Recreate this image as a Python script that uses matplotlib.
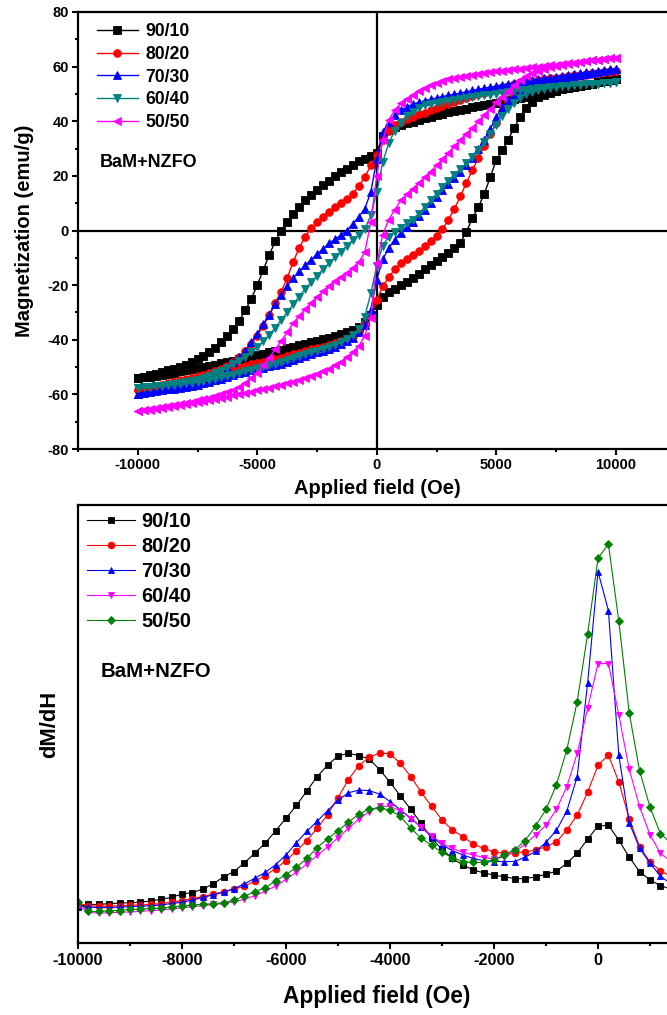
import matplotlib
matplotlib.use("Agg")
import matplotlib.pyplot as plt
from matplotlib.ticker import MultipleLocator
import numpy as np

plt.rcParams['font.family'] = ['Liberation Sans', 'DejaVu Sans']
plt.rcParams['font.weight'] = 'bold'
plt.rcParams['axes.unicode_minus'] = False

# ---------------- top panel: M-H loops ----------------
labels_top = ["90/10", "80/20", "70/30", "60/40", "50/50"]
colors_top = ["black", "#ff0000", "#0000ff", "#008080", "#ff00ff"]
markers_top = ["s", "o", "^", "v", "<"]

# field grid of each branch, -10000 .. 10000 Oe in 250 Oe steps
field_loop = np.arange(-10000, 10001, 250)

# upper branch (field coming down from +10 kOe), listed from -10000 to +10000
m_upper_9010 = [-54.0, -53.5, -53.0, -52.4, -51.8, -51.2, -50.6, -49.9, -49.1,
                -48.2, -47.2, -46.0, -44.6, -43.0, -41.0, -38.8, -36.0,
                -33.0, -29.2, -25.0, -20.0, -14.5, -9.0, -4.0, 0.0,
                3.2, 6.0, 8.7, 11.0, 13.1, 14.9, 16.6, 18.2,
                19.8, 21.3, 22.7, 24.0, 25.3, 26.3, 27.4, 28.5,
                34.5, 36.8, 37.9, 38.7, 39.3, 39.9, 40.5, 41.1,
                41.7, 42.3, 42.8, 43.3, 43.7, 44.2, 44.6, 45.1,
                45.5, 45.9, 46.4, 46.8, 47.2, 47.7, 48.1, 48.5,
                49.0, 49.4, 49.9, 50.3, 50.8, 51.2, 51.7, 52.2,
                52.6, 53.0, 53.4, 53.8, 54.2, 54.6, 55.0, 55.4]
m_lower_9010 = [-54.0, -53.8, -53.5, -53.2, -52.8, -52.4, -52.0, -51.6, -51.2,
                -50.8, -50.4, -50.0, -49.6, -49.1, -48.6, -48.1, -47.6,
                -47.1, -46.6, -46.1, -45.6, -45.1, -44.6, -44.1, -43.6,
                -43.1, -42.6, -42.1, -41.5, -41.0, -40.4, -39.8, -39.2,
                -38.6, -38.0, -37.2, -36.4, -35.3, -33.6, -31.0, -27.3,
                -24.2, -22.7, -21.3, -20.1, -18.8, -17.4, -15.8, -14.2,
                -12.7, -11.2, -9.7, -8.2, -6.5, -4.5, -0.5, 4.5,
                8.5, 13.5, 19.5, 25.8, 29.3, 33.3, 37.5, 41.6,
                45.0, 47.2, 48.8, 49.7, 50.5, 51.1, 51.7, 52.2,
                52.6, 53.0, 53.4, 53.8, 54.2, 54.6, 55.0, 55.4]

m_upper_8020 = [-58.4, -57.9, -57.4, -56.9, -56.4, -55.9, -55.4, -54.9, -54.4,
                -53.9, -53.4, -52.9, -52.3, -51.6, -50.7, -49.6, -48.2,
                -46.3, -44.0, -41.5, -38.5, -35.0, -31.0, -26.5, -22.5,
                -17.5, -11.5, -6.5, -2.3, 0.8, 3.0, 5.0, 6.9,
                8.6, 10.2, 11.5, 13.5, 16.3, 19.5, 23.8, 27.5,
                33.2, 36.4, 38.5, 39.8, 40.8, 41.7, 42.5, 43.2,
                44.0, 44.8, 45.6, 46.3, 47.0, 47.8, 48.5, 49.2,
                49.9, 50.5, 51.2, 51.8, 52.4, 53.0, 53.6, 54.2,
                54.5, 54.8, 55.1, 55.4, 55.7, 56.0, 56.2, 56.5,
                56.8, 57.1, 57.3, 57.6, 57.8, 58.1, 58.3, 58.5]
m_lower_8020 = [-58.4, -58.0, -57.6, -57.1, -56.6, -56.1, -55.6, -55.1, -54.6,
                -54.1, -53.6, -53.1, -52.6, -52.0, -51.4, -50.8, -50.3,
                -49.9, -49.5, -49.0, -48.6, -48.1, -47.6, -47.1, -46.5,
                -45.9, -45.3, -44.7, -44.0, -43.5, -43.0, -42.5, -42.0,
                -41.3, -40.5, -39.7, -38.8, -37.2, -34.5, -31.0, -25.5,
                -20.5, -17.2, -14.2, -12.0, -10.5, -9.0, -7.5, -5.8,
                -4.0, -2.0, 0.5, 4.0, 8.0, 12.5, 17.5, 22.0,
                26.5, 31.0, 35.3, 39.5, 43.8, 47.2, 49.6, 51.0,
                52.0, 53.0, 53.8, 54.5, 54.9, 55.3, 55.7, 56.0,
                56.4, 56.7, 57.0, 57.3, 57.6, 57.9, 58.2, 58.5]

m_upper_7030 = [-59.7, -59.3, -58.9, -58.4, -58.0, -57.6, -57.2, -56.7, -56.2,
                -55.6, -55.0, -54.4, -53.6, -52.7, -51.5, -50.1, -48.3,
                -46.3, -44.0, -41.0, -37.8, -34.3, -30.8, -27.0, -23.5,
                -20.3, -17.5, -15.0, -12.8, -10.7, -8.7, -6.7, -4.7,
                -3.2, -1.7, 0.0, 2.5, 5.0, 8.0, 14.0, 26.0,
                36.0, 39.8, 42.3, 44.0, 45.2, 46.2, 46.9, 47.5,
                48.0, 48.5, 49.0, 49.5, 49.9, 50.3, 50.8, 51.3,
                51.7, 52.1, 52.5, 52.9, 53.3, 53.7, 54.0, 54.4,
                54.7, 55.0, 55.4, 55.7, 56.0, 56.3, 56.7, 57.0,
                57.3, 57.6, 57.9, 58.2, 58.5, 58.8, 59.0, 59.2]
m_lower_7030 = [-59.7, -59.4, -59.1, -58.8, -58.5, -58.2, -57.9, -57.6, -57.3,
                -56.9, -56.5, -56.0, -55.5, -54.9, -54.3, -53.6, -52.8,
                -52.3, -51.8, -51.2, -50.7, -50.2, -49.7, -49.2, -48.7,
                -48.0, -47.3, -46.7, -46.0, -45.3, -44.6, -44.0, -43.3,
                -42.5, -41.6, -40.5, -39.3, -37.3, -34.5, -29.0, -18.0,
                -10.5, -6.5, -3.3, -0.8, 1.2, 3.0, 5.3, 7.5,
                9.9, 12.3, 14.7, 17.0, 19.3, 21.5, 24.0, 26.5,
                29.8, 33.3, 37.3, 41.5, 45.0, 47.5, 49.4, 50.8,
                51.8, 52.6, 53.3, 53.9, 54.5, 55.0, 55.5, 56.0,
                56.4, 56.9, 57.3, 57.7, 58.1, 58.5, 58.9, 59.2]

m_upper_6040 = [-57.6, -57.4, -57.2, -57.0, -56.8, -56.6, -56.3, -56.0, -55.6,
                -55.1, -54.6, -54.0, -53.2, -52.3, -51.3, -50.2, -49.0,
                -47.7, -46.3, -44.6, -42.7, -40.6, -38.2, -35.6, -32.8,
                -30.0, -27.0, -24.2, -21.5, -19.0, -16.5, -14.2, -12.0,
                -9.8, -7.7, -5.5, -3.5, -1.5, 0.5, 5.5, 14.0,
                25.0, 32.0, 36.5, 39.5, 41.8, 43.5, 44.8, 45.8,
                46.4, 46.8, 47.2, 47.5, 47.9, 48.2, 48.6, 48.9,
                49.2, 49.5, 49.7, 50.0, 50.3, 50.6, 51.0, 51.3,
                51.5, 51.8, 52.0, 52.3, 52.5, 52.6, 52.8, 53.0,
                53.2, 53.3, 53.5, 53.6, 53.8, 53.9, 54.1, 54.2]
m_lower_6040 = [-57.6, -57.4, -57.3, -57.1, -56.9, -56.7, -56.5, -56.3, -56.0,
                -55.7, -55.4, -55.1, -54.7, -54.3, -53.8, -53.3, -52.8,
                -52.2, -51.6, -51.0, -50.3, -49.8, -49.3, -48.8, -48.2,
                -47.5, -46.8, -46.0, -45.3, -44.6, -44.0, -43.3, -42.6,
                -41.8, -41.0, -39.8, -38.2, -35.9, -31.5, -23.0, -13.0,
                -5.5, -2.3, -0.4, 1.0, 2.7, 4.0, 6.2, 8.5,
                11.0, 13.5, 16.0, 18.3, 20.5, 22.6, 24.7, 27.0,
                29.5, 32.3, 35.5, 38.8, 42.0, 44.5, 46.8, 48.5,
                49.8, 50.7, 51.3, 51.8, 52.2, 52.5, 52.8, 53.0,
                53.2, 53.3, 53.5, 53.6, 53.8, 53.9, 54.1, 54.2]

m_upper_5050 = [-66.2, -65.8, -65.5, -65.1, -64.8, -64.4, -64.0, -63.6, -63.2,
                -62.7, -62.2, -61.7, -61.2, -60.6, -60.0, -59.3, -58.5,
                -57.3, -55.8, -54.0, -52.0, -49.4, -46.5, -43.5, -40.5,
                -37.2, -34.0, -31.3, -28.8, -26.5, -24.3, -22.3, -20.3,
                -18.6, -17.0, -15.5, -13.6, -11.5, -8.0, 3.0, 20.0,
                33.0, 40.5, 44.0, 46.5, 48.2, 49.5, 51.0, 52.3,
                53.2, 54.0, 54.7, 55.3, 55.8, 56.3, 56.7, 57.0,
                57.3, 57.6, 58.0, 58.3, 58.5, 58.8, 59.0, 59.3,
                59.5, 59.7, 60.0, 60.2, 60.5, 60.7, 61.0, 61.2,
                61.5, 61.8, 62.0, 62.3, 62.5, 62.8, 63.0, 63.2]
m_lower_5050 = [-66.2, -65.9, -65.6, -65.3, -65.0, -64.7, -64.3, -64.0, -63.6,
                -63.2, -62.8, -62.4, -62.0, -61.6, -61.2, -60.8, -60.3,
                -59.9, -59.5, -59.0, -58.5, -58.0, -57.5, -57.0, -56.5,
                -55.9, -55.3, -54.6, -53.9, -53.2, -52.4, -51.5, -50.6,
                -49.4, -48.0, -46.4, -44.5, -42.3, -38.5, -32.0, -12.0,
                -1.5, 4.0, 7.5, 11.0, 13.2, 15.3, 17.4, 19.5,
                21.6, 23.8, 26.1, 28.5, 30.9, 33.3, 35.5, 37.6,
                40.0, 42.3, 44.6, 46.9, 49.0, 51.0, 53.2, 55.0,
                56.5, 57.6, 58.5, 59.3, 59.9, 60.3, 60.7, 61.0,
                61.4, 61.7, 62.0, 62.3, 62.5, 62.8, 63.0, 63.2]

upper_branches = [m_upper_9010, m_upper_8020, m_upper_7030, m_upper_6040, m_upper_5050]
lower_branches = [m_lower_9010, m_lower_8020, m_lower_7030, m_lower_6040, m_lower_5050]

# ---------------- bottom panel: dM/dH ----------------
labels_bot = ["90/10", "80/20", "70/30", "60/40", "50/50"]
colors_bot = ["black", "#ff0000", "#0000ff", "#ff00ff", "#008000"]
markers_bot = ["s", "o", "^", "v", "D"]

field_deriv = np.arange(-10000, 1601, 200)

dmdh_9010 = [8.3, 8.8, 8.8, 9.0, 9.1, 9.2, 9.3, 9.6, 10.0, 10.4,
             11.2, 11.5, 12.3, 13.5, 15.1, 16.3, 18.3, 20.5, 22.8, 25.6,
             28.5, 31.4, 34.7, 38.0, 40.6, 42.7, 43.3, 42.8, 42.0, 39.6,
             36.7, 33.6, 30.5, 27.3, 23.9, 21.4, 19.3, 17.8, 16.7, 16.0,
             15.5, 15.1, 14.7, 14.7, 15.1, 15.7, 16.4, 18.2, 20.5, 23.7,
             26.7, 26.9, 23.5, 19.6, 16.3, 14.4, 13.1, 12.3, 11.6]
dmdh_8020 = [9.0, 8.5, 8.4, 8.4, 8.5, 8.6, 8.7, 8.8, 9.0, 9.3,
             9.7, 10.1, 10.6, 11.1, 11.7, 12.3, 13.0, 14.1, 15.4, 17.0,
             18.8, 21.0, 23.4, 26.2, 29.3, 33.2, 37.3, 40.5, 42.4, 43.4,
             43.2, 41.0, 38.0, 34.4, 31.2, 28.1, 25.8, 24.3, 22.6, 21.6,
             20.8, 20.5, 20.6, 20.8, 21.2, 22.0, 23.1, 25.8, 29.2, 34.4,
             40.6, 42.9, 36.8, 28.4, 22.0, 18.5, 16.5, 15.2, 14.2]
dmdh_7030 = [8.5, 8.2, 8.1, 8.1, 8.2, 8.3, 8.4, 8.5, 8.7, 9.0,
             9.3, 9.8, 10.4, 11.0, 11.6, 12.4, 13.5, 14.8, 16.1, 17.9,
             20.1, 22.9, 25.5, 27.8, 30.2, 32.6, 34.3, 34.9, 34.8, 34.0,
             32.3, 30.4, 28.5, 26.4, 24.3, 22.4, 21.1, 20.1, 19.3, 18.8,
             18.6, 18.6, 18.6, 19.6, 20.9, 23.0, 25.7, 30.1, 38.0, 59.3,
             84.8, 75.9, 42.9, 27.5, 21.6, 18.2, 15.3, 13.5, 12.4]
dmdh_6040 = [8.5, 7.0, 6.8, 6.9, 7.0, 7.1, 7.2, 7.4, 7.5, 7.8,
             8.0, 8.3, 8.5, 8.8, 9.0, 9.4, 10.0, 10.8, 11.8, 13.0,
             14.5, 16.2, 18.0, 20.0, 22.0, 24.0, 26.2, 28.3, 30.0, 31.2,
             31.2, 30.2, 28.4, 26.4, 24.5, 22.8, 21.6, 20.7, 20.1, 19.5,
             19.2, 19.6, 20.9, 22.6, 24.7, 26.9, 30.5, 35.7, 43.3, 53.6,
             63.8, 63.8, 52.1, 39.7, 31.1, 24.7, 20.5, 18.6, 17.4]
dmdh_5050 = [9.3, 7.2, 7.2, 7.4, 7.4, 7.7, 7.7, 7.9, 7.9, 8.3,
             8.4, 8.7, 8.8, 9.0, 9.2, 9.8, 10.7, 11.7, 12.6, 14.2,
             15.6, 17.3, 19.3, 21.8, 23.8, 25.6, 27.6, 29.4, 30.6, 30.9,
             30.3, 28.9, 26.2, 23.9, 22.3, 20.7, 19.5, 18.6, 18.4, 18.4,
             19.0, 20.1, 21.3, 23.4, 26.7, 30.5, 36.1, 44.1, 55.1, 70.5,
             87.8, 91.1, 73.5, 52.6, 39.3, 31.0, 25.0, 22.8, 21.0]

dmdh_all = [dmdh_9010, dmdh_8020, dmdh_7030, dmdh_6040, dmdh_5050]

W, H = 667, 1015
fig = plt.figure(figsize=(W / 100, H / 100), dpi=100)

# top axes (right spine sits just past the image edge, as in the original crop)
ax1 = fig.add_axes([78 / W, (H - 449) / H, 597.5 / W, 437 / H])
ax1.axhline(0, color="black", lw=1.6, zorder=1)
ax1.axvline(0, color="black", lw=1.6, zorder=1)

for lab, col, mk, up, low in zip(labels_top, colors_top, markers_top,
                                 upper_branches, lower_branches):
    h = np.concatenate([field_loop[::-1], field_loop])
    m = np.concatenate([np.array(up)[::-1], np.array(low)])
    ax1.plot(h, m, color=col, marker=mk, markersize=5.5, lw=1.0,
             markeredgewidth=0.6, label=lab, zorder=3)

ax1.set_xlim(-12500, 12500)
ax1.set_ylim(-80, 80)
ax1.xaxis.set_major_locator(MultipleLocator(5000))
ax1.xaxis.set_minor_locator(MultipleLocator(2500))
ax1.yaxis.set_major_locator(MultipleLocator(20))
ax1.yaxis.set_minor_locator(MultipleLocator(10))
ax1.tick_params(which="both", direction="out", top=False, right=False,
                width=1.5, labelsize=10.5, pad=2)
ax1.tick_params(which="major", length=4.5)
ax1.tick_params(which="minor", length=2.5)
for s in ax1.spines.values():
    s.set_linewidth(1.6)

leg1 = ax1.legend(loc="upper left", bbox_to_anchor=(0.031, 0.975),
                  frameon=False, fontsize=12.7, handlelength=2.35,
                  handletextpad=0.4, labelspacing=0.33, borderpad=0,
                  borderaxespad=0, numpoints=1)
ax1.text(0.037, 0.6545, "BaM+NZFO", transform=ax1.transAxes,
         fontsize=13, fontweight="bold", va="center", ha="left")

fig.text(377 / W, 1 - 489 / H, "Applied field (Oe)", ha="center",
         va="center", fontsize=14.5, fontweight="bold")
fig.text(25 / W, 1 - 231 / H, "Magnetization (emu/g)", rotation=90,
         ha="center", va="center", fontsize=14.5, fontweight="bold")

# bottom axes
ax2 = fig.add_axes([78 / W, (H - 943) / H, 598 / W, 438 / H])
for lab, col, mk, d in zip(labels_bot, colors_bot, markers_bot, dmdh_all):
    ms = 4.2 if mk == "D" else 4.8
    ax2.plot(field_deriv, d, color=col, marker=mk, markersize=ms, lw=0.8,
             markeredgewidth=0.6, label=lab)

ax2.set_xlim(-10000, 1500)
ax2.set_ylim(0, 100)
ax2.xaxis.set_major_locator(MultipleLocator(2000))
ax2.xaxis.set_minor_locator(MultipleLocator(1000))
ax2.tick_params(axis="x", which="both", direction="out", top=False,
                width=1.5, labelsize=11.8, pad=3)
ax2.tick_params(axis="x", which="major", length=4.5)
ax2.tick_params(axis="x", which="minor", length=2.5)
ax2.tick_params(axis="y", which="both", left=False, right=False,
                labelleft=False)
for s in ax2.spines.values():
    s.set_linewidth(1.6)

leg2 = ax2.legend(loc="upper left", bbox_to_anchor=(0.015, 0.985),
                  frameon=False, fontsize=14.4, handlelength=2.4,
                  handletextpad=0.3, labelspacing=0.3, borderpad=0,
                  borderaxespad=0, numpoints=1)
ax2.text(0.037, 0.619, "BaM+NZFO", transform=ax2.transAxes,
         fontsize=14.7, fontweight="bold", va="center", ha="left")

fig.text(377 / W, 1 - 997 / H, "Applied field (Oe)", ha="center",
         va="center", fontsize=16.3, fontweight="bold")
fig.text(50 / W, 1 - 724 / H, "dM/dH", rotation=90,
         ha="center", va="center", fontsize=15.8, fontweight="bold")

fig.savefig("out.png", dpi=100)
